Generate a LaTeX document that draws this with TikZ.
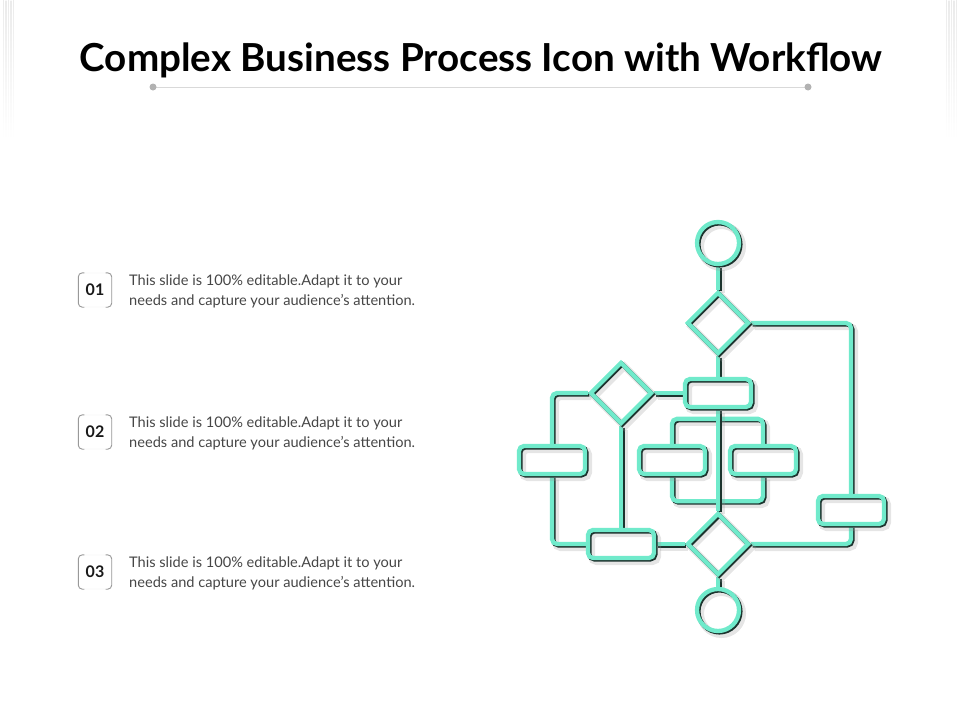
\documentclass[tikz,border=0pt]{standalone}
\usepackage{fontspec}
\setmainfont{Lato}
\usetikzlibrary{shapes.geometric,backgrounds}
\definecolor{teal1}{RGB}{112,234,203}
\definecolor{edge}{RGB}{28,52,46}
\definecolor{shadowgray}{RGB}{150,150,150}
\definecolor{bodytext}{RGB}{70,70,70}
\tikzset{
  flowline/.style={draw=teal1, line width=4.3pt,
    preaction={draw=shadowgray, line width=7pt, opacity=0.25, transform canvas={shift={(3.5pt,-3.5pt)}}},
    preaction={draw=edge, line width=4.3pt, transform canvas={shift={(1.4pt,-1.4pt)}}}},
  conn/.style={flowline, rounded corners=5pt},
  fbox/.style={flowline, shape=rectangle, rounded corners=5pt, minimum width=66pt, minimum height=28pt, inner sep=0pt},
  fdiam/.style={flowline, shape=diamond, aspect=1, minimum width=62pt, minimum height=62pt, inner sep=0pt},
  fcirc/.style={flowline, shape=circle, minimum size=42pt, inner sep=0pt},
  numbox/.style={draw=black!8, fill=white, rounded corners=4pt, minimum width=33pt, minimum height=34pt, inner sep=0pt,
    font=\fontsize{16}{18}\selectfont\bfseries, text=black!90},
  bracket/.style={draw=black!40, line width=0.9pt, rounded corners=4pt},
  bodyt/.style={anchor=north west, inner sep=0pt, align=left, text=bodytext,
    font=\fontsize{14.6}{19.5}\selectfont},
  deco/.style={top color=black!8, bottom color=white, draw=none},
}
\begin{document}
\begin{tikzpicture}[x=1pt,y=-1pt]
\useasboundingbox (0,0) rectangle (960,720);
% faint decorative lines
\foreach \xx in {3,5.5,8,10.5,13,946,948.5,951,953.5,956} {\shade[deco] (\xx,0) rectangle (\xx+0.8,140);}
% title
\node[anchor=base, inner sep=0pt, font=\fontsize{38.6}{44}\selectfont\bfseries] (title) at (481,71) {Complex Business Process Icon with Workflow};
\coordinate (ruleL) at (153,87);
\coordinate (ruleR) at (808,87);
\draw[black!15, line width=1pt] (ruleL) -- (ruleR);
\fill[black!30] (ruleL) circle (3.5pt) (ruleR) circle (3.5pt);
% numbered items
\foreach \n/\yy in {01/290,02/432,03/572} {
  \node[numbox] (n\n) at (95,\yy) {\n};
  \draw[bracket] ([xshift=6pt]n\n.north west) -- (n\n.north west) -- (n\n.south west) -- ([xshift=6pt]n\n.south west);
  \draw[bracket] ([xshift=-6pt]n\n.north east) -- (n\n.north east) -- (n\n.south east) -- ([xshift=-6pt]n\n.south east);
  \node[bodyt] (t\n) at (129,\yy-15) {This slide is 100\% editable.Adapt it to your\\needs and capture your audience’s attention.};
}
% flowchart nodes
\node[fcirc] (c1) at (718,243) {};
\node[fdiam] (d1) at (718,323) {};
\node[fbox] (bA) at (718,393) {};
\node[fdiam] (d2) at (621,393) {};
\node[fbox] (bL) at (552,460) {};
\node[fbox] (bM1) at (672,460) {};
\node[fbox] (bM2) at (763,460) {};
\node[fbox] (bR) at (851,510) {};
\node[fbox] (bB) at (621,544) {};
\node[fdiam] (d3) at (718,544) {};
\node[fcirc] (c2) at (718,610) {};
\begin{scope}[on background layer]
  \draw[conn] (bM1.north) -- ++(0,-25) -| (bM2.north);
  \draw[conn] (bM1.south) -- ++(0,25) -| (bM2.south);
  \draw[conn] (c1) -- (d1);
  \draw[conn] (d1) -- (bA);
  \draw[conn] (bA.south) -- (d3.north);
  \draw[conn] (d3) -- (c2);
  \draw[conn] (d2.east) -- (bA.west);
  \draw[conn] (d2.south) -- (bB.north);
  \draw[conn] (d2.west) -| (bL.north);
  \draw[conn] (bL.south) |- (bB.west);
  \draw[conn] (bB.east) -- (d3.west);
  \draw[conn] (d1.east) -| (bR.north);
  \draw[conn] (bR.south) |- (d3.east);
\end{scope}
\end{tikzpicture}
\end{document}
